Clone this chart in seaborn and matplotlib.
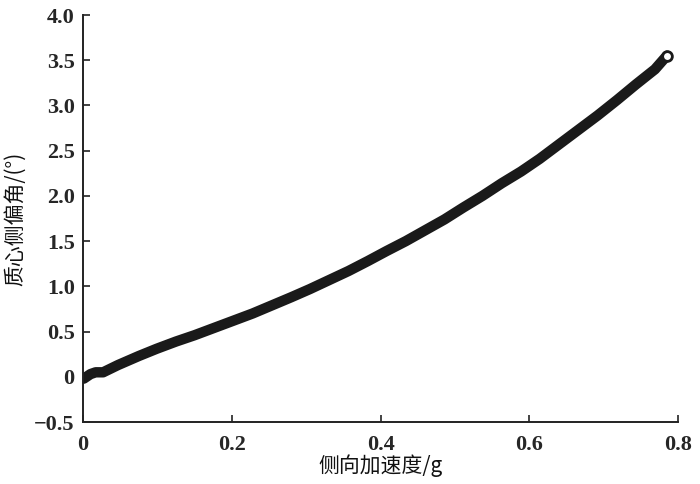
import numpy as np
import pandas as pd
import matplotlib
matplotlib.use("Agg")
import matplotlib.pyplot as plt
from matplotlib.ticker import FuncFormatter
import seaborn as sns

# lateral acceleration (g) vs. sideslip angle (deg)
lat_acc = [0.001, 0.010, 0.017, 0.027, 0.047, 0.075, 0.099, 0.125, 0.150, 0.176,
           0.202, 0.228, 0.254, 0.280, 0.305, 0.331, 0.357, 0.383, 0.408, 0.434,
           0.460, 0.486, 0.511, 0.537, 0.563, 0.589, 0.614, 0.640, 0.666, 0.692,
           0.718, 0.743, 0.769, 0.785]
sideslip = [-0.02, 0.03, 0.05, 0.05, 0.13, 0.23, 0.31, 0.39, 0.46, 0.54,
            0.62, 0.70, 0.79, 0.88, 0.97, 1.07, 1.17, 1.28, 1.39, 1.50,
            1.62, 1.74, 1.87, 2.00, 2.14, 2.27, 2.41, 2.57, 2.73, 2.89,
            3.06, 3.23, 3.40, 3.55]

x_ticks = [0, 0.2, 0.4, 0.6, 0.8]
y_ticks = [-0.5, 0, 0.5, 1.0, 1.5, 2.0, 2.5, 3.0, 3.5, 4.0]

df = pd.DataFrame({"acc": lat_acc, "beta": sideslip})

sns.set_style("ticks")
plt.rcParams["font.family"] = ["Noto Sans CJK SC", "DejaVu Sans"]
plt.rcParams["axes.unicode_minus"] = True

fig = plt.figure(figsize=(7, 4.84), dpi=100)
ax = fig.add_axes([0.1186, 0.128, 0.85, 0.841])

sns.lineplot(data=df, x="acc", y="beta", ax=ax, color="#1a1a1a",
             linewidth=7.5, sort=False, solid_capstyle="round")
ax.plot(lat_acc[-1:], sideslip[-1:], marker="o", markersize=7,
        markerfacecolor="white", markeredgecolor="#1a1a1a", markeredgewidth=2)

ax.set_xlim(0, 0.8)
ax.set_ylim(-0.5, 4.0)
ax.set_xticks(x_ticks)
ax.set_yticks(y_ticks)


def fmt(v, pos):
    if abs(v) < 1e-9:
        return "0"
    s = f"{v:.1f}"
    return s.replace("-", "\u2212")


ax.xaxis.set_major_formatter(FuncFormatter(fmt))
ax.yaxis.set_major_formatter(FuncFormatter(fmt))

for lab in ax.get_xticklabels() + ax.get_yticklabels():
    lab.set_family("Liberation Serif")
    lab.set_fontweight("bold")
    lab.set_fontsize(16)

ax.tick_params(direction="in", length=5, width=1.2, color="#222222", pad=6)
ax.tick_params(axis="x", pad=9)

sns.despine(ax=ax)
for sp in ["left", "bottom"]:
    ax.spines[sp].set_linewidth(1.4)
    ax.spines[sp].set_color("#222222")

ax.set_xlabel("侧向加速度/g", fontsize=15, labelpad=0, color="#111111")
ax.set_ylabel("质心侧偏角/(°)", fontsize=15, labelpad=6, color="#111111")

fig.savefig("out.png", dpi=100)
